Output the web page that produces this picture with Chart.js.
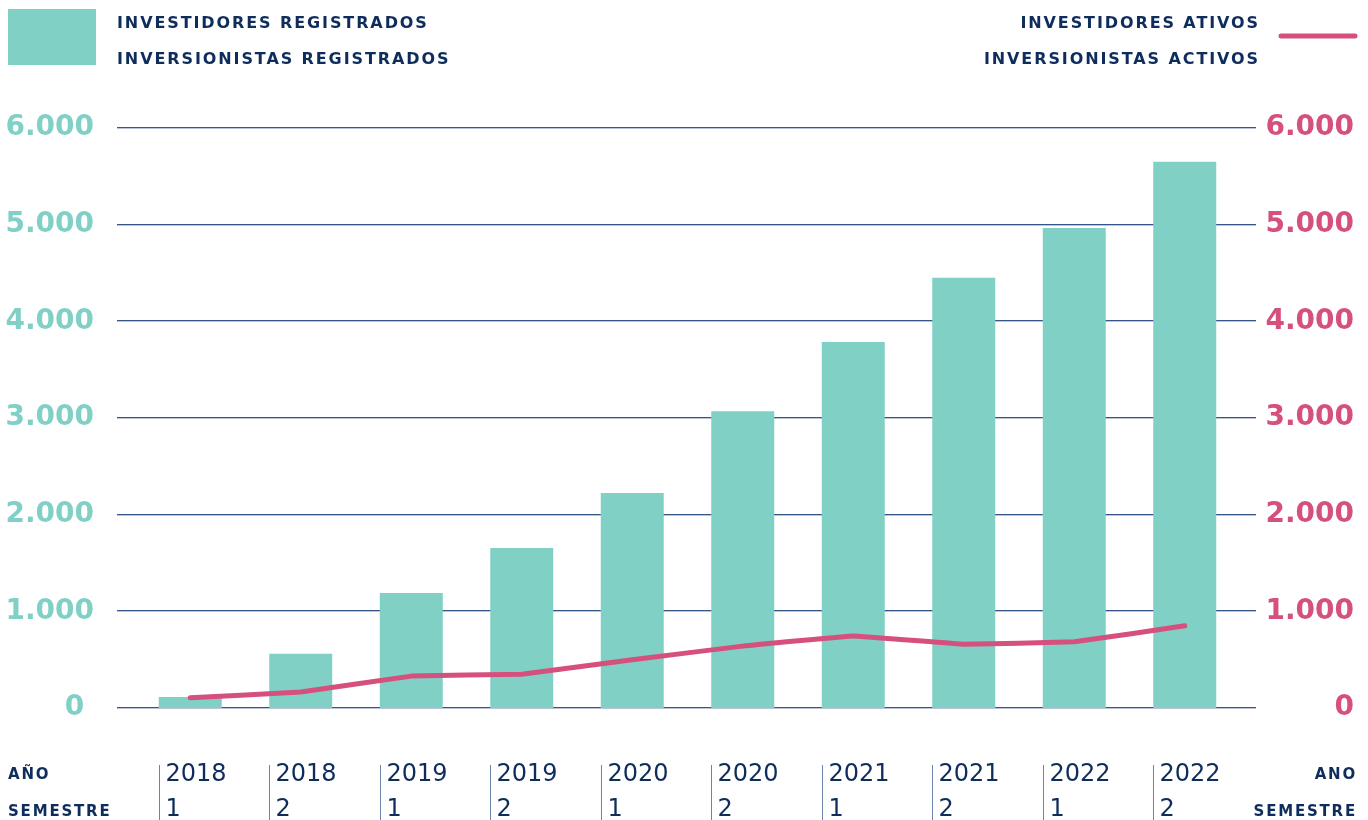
<!DOCTYPE html>
<html>
<head>
<meta charset="utf-8">
<style>
  html, body { margin: 0; padding: 0; background: #ffffff; }
  #wrap { width: 1368px; height: 820px; position: relative; }
</style>
<script src="https://cdn.jsdelivr.net/npm/chart.js@4.4.1/dist/chart.umd.min.js"></script>
</head>
<body>
<div id="wrap"><canvas id="chart" width="1368" height="820"></canvas></div>
<script>
// ── DATA ──
const years      = ['2018', '2018', '2019', '2019', '2020', '2020', '2021', '2021', '2022', '2022'];
const semesters  = ['1', '2', '1', '2', '1', '2', '1', '2', '1', '2'];
const registrados = [115, 560, 1190, 1655, 2225, 3070, 3785, 4450, 4965, 5650];
const ativos      = [105, 165, 330, 350, 500, 640, 745, 660, 685, 850];
const yTicks      = [0, 1000, 2000, 3000, 4000, 5000, 6000];

// ── PALETTE ──
const TEAL = '#80d0c6';
const PINK = '#d6507d';
const NAVY = '#0f2d5c';
const GRID = '#34568a';
const FONT = "'DejaVu Sans', sans-serif";

const fmt = v => v === 0 ? '0\u00a0' : v.toLocaleString('de-DE');

// ── GRIDLINES (wider than the bar area) ──
const gridPlugin = {
  id: 'grid',
  beforeDatasetsDraw(chart) {
    const ctx = chart.ctx;
    const y = chart.scales.y;
    ctx.save();
    yTicks.forEach(v => {
      const py = Math.round(y.getPixelForValue(v));
      ctx.fillStyle = GRID;
      ctx.fillRect(117, py - 1, 1139, 1);
      ctx.fillStyle = '#b9c5d7';
      ctx.fillRect(117, py, 1139, 1);
    });
    ctx.restore();
  }
};

// ── LEGEND + CATEGORY LABELS ──
const textPlugin = {
  id: 'texts',
  afterDraw(chart) {
    const ctx = chart.ctx;
    ctx.save();

    // legend left
    ctx.fillStyle = TEAL;
    ctx.fillRect(8, 9, 88, 56);
    ctx.fillStyle = NAVY;
    ctx.font = `bold 16px ${FONT}`;
    ctx.letterSpacing = '1.9px';
    ctx.textBaseline = 'alphabetic';
    ctx.textAlign = 'left';
    ctx.fillText('INVESTIDORES REGISTRADOS', 117, 28);
    ctx.fillText('INVERSIONISTAS REGISTRADOS', 117, 64);

    // legend right
    ctx.textAlign = 'right';
    ctx.fillText('INVESTIDORES ATIVOS', 1260, 28);
    ctx.fillText('INVERSIONISTAS ACTIVOS', 1260, 64);
    ctx.strokeStyle = PINK;
    ctx.lineWidth = 5;
    ctx.lineCap = 'round';
    ctx.beginPath();
    ctx.moveTo(1281, 36);
    ctx.lineTo(1355, 36);
    ctx.stroke();

    // axis captions
    ctx.font = `bold 15px ${FONT}`;
    ctx.letterSpacing = '1.8px';
    ctx.textAlign = 'left';
    ctx.fillText('AÑO', 8, 779);
    ctx.fillText('SEMESTRE', 8, 816);
    ctx.textAlign = 'right';
    ctx.fillText('ANO', 1357, 779);
    ctx.fillText('SEMESTRE', 1357, 816);

    // category labels with separators
    ctx.letterSpacing = '0px';
    ctx.font = `24px ${FONT}`;
    ctx.textAlign = 'left';
    const bars = chart.getDatasetMeta(1).data;
    bars.forEach((b, i) => {
      const left = Math.round(b.x - b.width / 2) + 0.5;
      ctx.strokeStyle = '#6d84a8';
      ctx.lineWidth = 1;
      ctx.lineCap = 'butt';
      ctx.beginPath();
      ctx.moveTo(left, 765);
      ctx.lineTo(left, 820);
      ctx.stroke();
      ctx.fillStyle = NAVY;
      ctx.fillText(years[i], left + 6, 781);
      ctx.fillText(semesters[i], left + 6, 816);
    });
    ctx.restore();
  }
};

const tickFont = { family: FONT, size: 28, weight: 'bold' };

new Chart(document.getElementById('chart'), {
  data: {
    labels: years.map((y, i) => y + ' ' + semesters[i]),
    datasets: [
      {
        type: 'line',
        label: 'Investidores ativos',
        data: ativos,
        yAxisID: 'y2',
        borderColor: PINK,
        borderWidth: 5,
        borderCapStyle: 'round',
        borderJoinStyle: 'round',
        pointRadius: 0,
        tension: 0.05,
        order: 0
      },
      {
        type: 'bar',
        label: 'Investidores registrados',
        data: registrados,
        yAxisID: 'y',
        backgroundColor: TEAL,
        borderWidth: 0,
        categoryPercentage: 1,
        barPercentage: 0.57,
        order: 1
      }
    ]
  },
  plugins: [gridPlugin, textPlugin],
  options: {
    responsive: false,
    animation: false,
    events: [],
    layout: { padding: { left: 0, right: 14, top: 128, bottom: 112 } },
    plugins: { legend: { display: false }, tooltip: { enabled: false } },
    scales: {
      x: { display: false, offset: true },
      y: {
        position: 'left',
        min: 0, max: 6000,
        afterFit: s => { s.width = 135; },
        afterBuildTicks: s => { s.ticks = yTicks.map(v => ({ value: v })); },
        grid: { display: false, drawTicks: false },
        border: { display: false },
        ticks: { color: TEAL, font: tickFont, padding: 41, crossAlign: 'near', callback: fmt }
      },
      y2: {
        position: 'right',
        min: 0, max: 6000,
        afterFit: s => { s.width = 114; },
        afterBuildTicks: s => { s.ticks = yTicks.map(v => ({ value: v })); },
        grid: { display: false, drawTicks: false },
        border: { display: false },
        ticks: { color: PINK, font: tickFont, padding: 0, crossAlign: 'far',
                 callback: v => v === 0 ? '0' : v.toLocaleString('de-DE') }
      }
    }
  }
});
</script>
</body>
</html>
